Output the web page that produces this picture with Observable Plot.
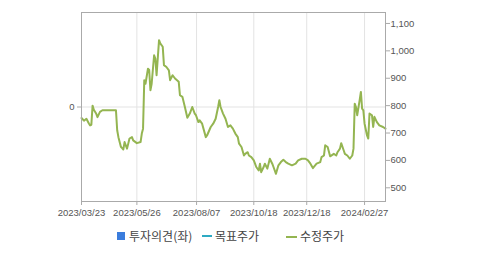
<!DOCTYPE html>
<html>
<head>
<meta charset="utf-8">
<script src="https://cdn.jsdelivr.net/npm/d3@7"></script>
<script src="https://cdn.jsdelivr.net/npm/@observablehq/plot@0.6"></script>
<style>
  html, body { margin: 0; padding: 0; background: #fff; }
  body { width: 479px; height: 255px; position: relative; overflow: hidden; font-family: "Liberation Sans", Arial, sans-serif; }
  #chart { position: absolute; left: 61px; top: 0; }
  #chart svg { overflow: visible; }
  .lg { position: absolute; font-family: "Noto Sans CJK KR", sans-serif; font-size: 12px; color: #444; line-height: 13px; white-space: nowrap; }
  .sw { position: absolute; }
</style>
</head>
<body>
<div id="chart"></div>
<div class="sw" style="left:117px;top:232px;width:8px;height:8px;background:#3b7ddd;"></div>
<div class="lg" style="left:129px;top:229px;">투자의견(좌)</div>
<div class="sw" style="left:202px;top:235px;width:10px;height:2px;background:#2eaac3;"></div>
<div class="lg" style="left:215px;top:229px;">목표주가</div>
<div class="sw" style="left:286px;top:236px;width:11px;height:2px;background:#94b551;"></div>
<div class="lg" style="left:300px;top:229px;">수정주가</div>
<script>
// trading-day index of each observation
const dayIndex = [0,2,4,6,7,8,9,10,12,13,15,17,28,29,30,32,33,34,35,37,39,41,42,45,48,49,50,51,52,54,55,56,57,59,60,61,63,64,66,67,69,71,72,74,76,79,80,82,84,86,88,90,92,93,95,96,98,101,102,105,107,109,111,112,113,115,117,119,121,123,125,127,128,130,132,133,135,136,138,140,141,142,144,145,146,148,149,151,153,155,156,158,160,162,164,166,168,171,174,176,179,182,184,186,188,191,194,195,197,198,200,202,205,207,208,210,211,213,214,216,218,220,221,222,223,224,226,227,228,229,230,232,233,234,236,237,238,240,242,245,247];
// adjusted price (수정주가)
const adjPrice = [755,745,752,735,728,730,800,785,770,758,777,783,783,710,685,650,645,640,667,643,680,685,673,663,667,698,716,893,880,935,930,856,880,984,972,911,1039,1027,1015,948,941,929,893,911,899,887,838,832,795,756,771,795,771,765,740,746,734,685,691,722,734,752,795,820,795,771,752,722,728,716,698,685,661,649,618,624,630,618,612,600,588,576,563,588,557,576,588,570,606,588,576,551,582,594,602,594,588,582,588,600,606,606,600,588,572,588,594,612,618,655,649,615,624,618,630,643,663,637,624,618,606,618,643,807,795,765,820,850,789,783,734,691,680,771,765,722,759,740,728,722,716];
// x tick positions (trading-day index) and labels
const xTickIndex = [0,45,93.5,140,183,230];
const xTickLabels = ["2023/03/23","2023/05/26","2023/08/07","2023/10/18","2023/12/18","2024/02/27"];
// right axis (price) ticks
const priceTicks = [500,600,700,800,900,1000,1100];
// left axis (investment opinion) ticks
const opinionTicks = [0];
const priceDomain = [450,1140];
const opinionDomain = [-1,1];

const data = dayIndex.map((d,i) => ({i: d, v: adjPrice[i]}));
// map opinion scale onto the price scale range
const opToPrice = d3.scaleLinear().domain(opinionDomain).range(priceDomain);
const opTickPos = opinionTicks.map(opToPrice);

const chart = Plot.plot({
  width: 418,
  height: 222,
  marginLeft: 20,
  marginRight: 94,
  marginTop: 12,
  marginBottom: 21,
  style: {fontFamily: "'Liberation Sans', Arial, sans-serif", fontSize: "9.5px", color: "#555", background: "#fff", overflow: "visible"},
  x: {domain: [0,247]},
  y: {domain: priceDomain},
  marks: [
    Plot.gridX(xTickIndex, {stroke: "#e3e3e3", strokeOpacity: 1}),
    Plot.gridY(opTickPos, {stroke: "#e3e3e3", strokeOpacity: 1}),
    Plot.line(data, {x: "i", y: "v", stroke: "#94b551", strokeWidth: 2}),
    Plot.frame({stroke: "#aaa"}),
    Plot.axisX(xTickIndex, {tickSize: 4, tickPadding: 4, stroke: "#aaa", fill: "#555", tickFormat: d => xTickLabels[xTickIndex.indexOf(d)], label: null}),
    Plot.axisY(priceTicks, {anchor: "right", tickSize: 4, tickPadding: 1, stroke: "#aaa", fill: "#555", tickFormat: d3.format(","), label: null}),
    Plot.axisY(opTickPos, {anchor: "left", tickSize: 4, tickPadding: 3, stroke: "#aaa", fill: "#555", tickFormat: (d) => String(opinionTicks[opTickPos.indexOf(d)]), label: null})
  ]
});
document.getElementById("chart").appendChild(chart);
</script>
</body>
</html>
